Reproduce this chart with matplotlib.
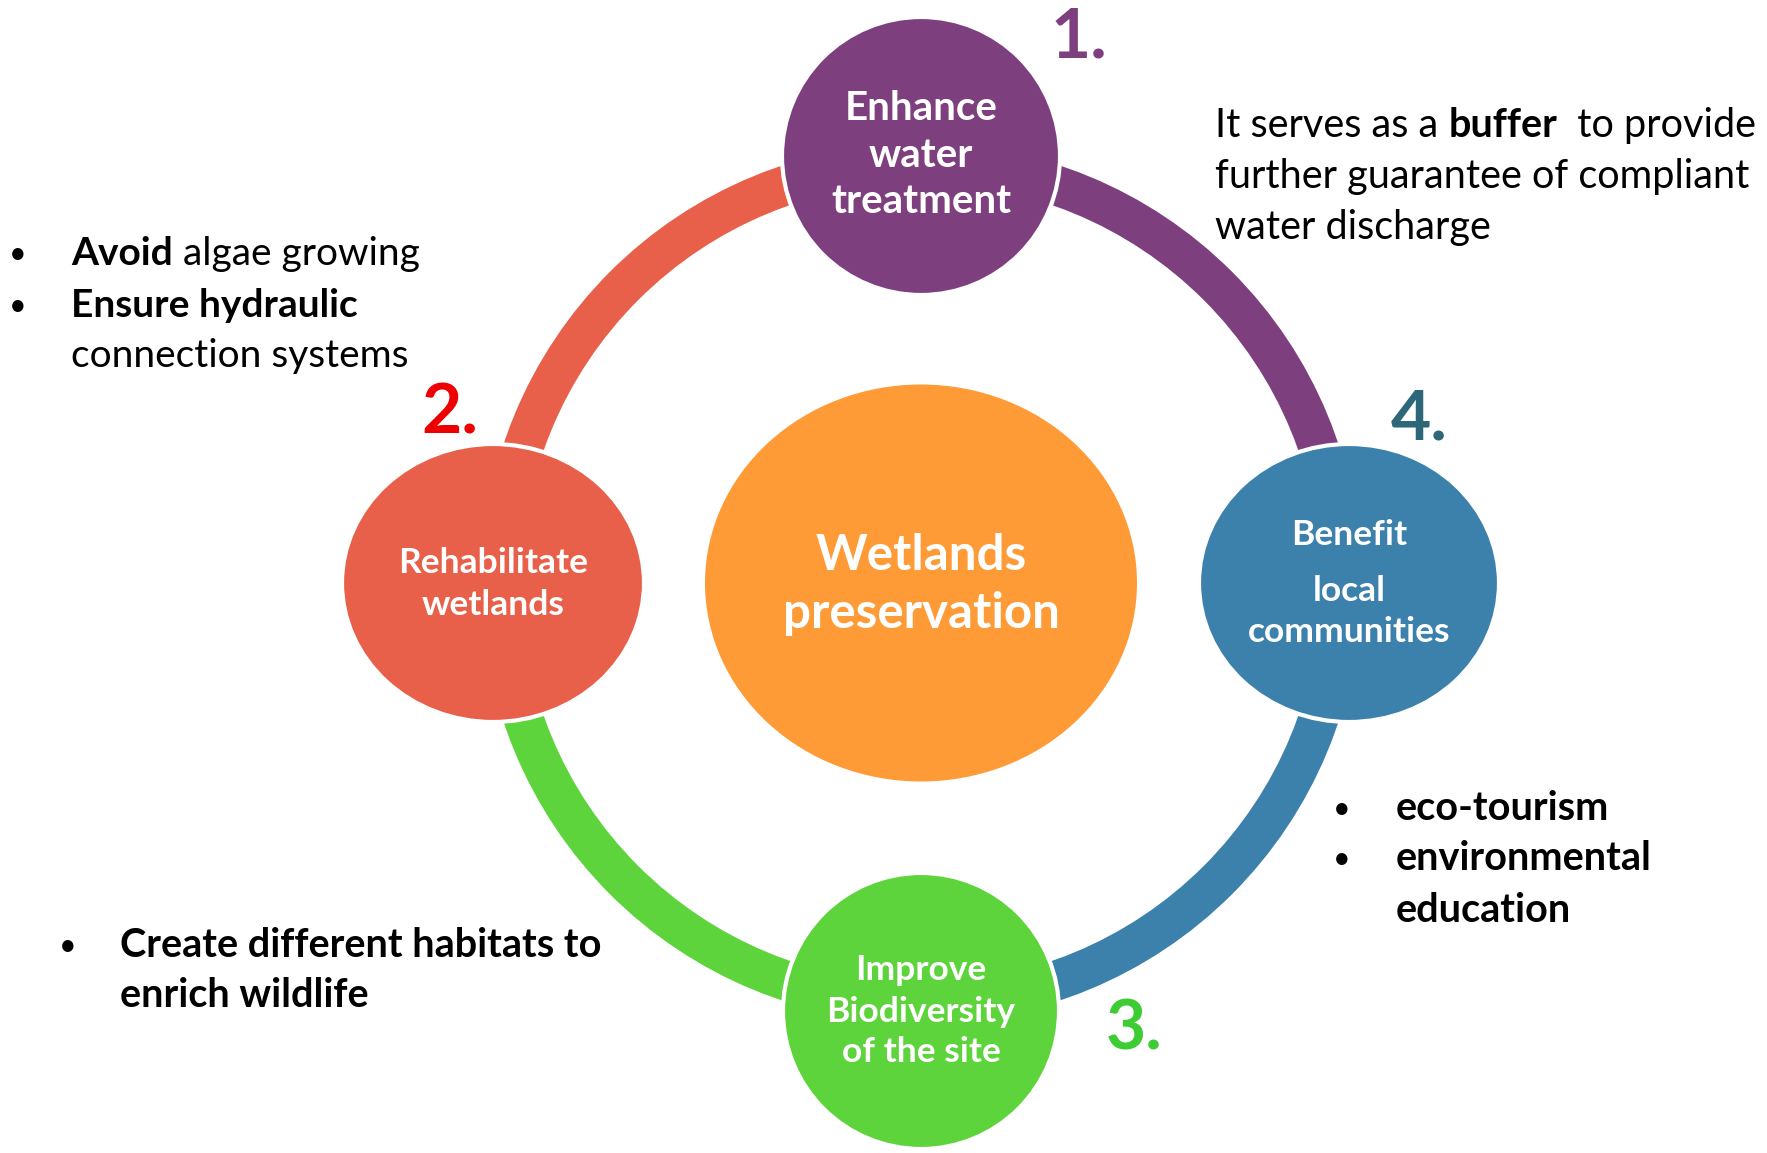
import matplotlib
matplotlib.use("Agg")
import matplotlib.pyplot as plt
from matplotlib.patches import Ellipse, Wedge

plt.rcParams['font.family'] = ['Lato', 'DejaVu Sans']

# ---- content ----
center_label = ["Wetlands", "preservation"]
node_labels = [["Enhance", "water", "treatment"],
               ["Rehabilitate", "wetlands"],
               ["Improve", "Biodiversity", "of the site"],
               ["Benefit", "local", "communities"]]
node_numbers = ["1.", "2.", "3.", "4."]
node_colors = ["#7E3F7E", "#E9604A", "#5DD33C", "#3C80AC"]
number_colors = ["#7E3F7E", "#EE0000", "#3DCC33", "#2E6878"]
center_color = "#FF9B37"

# side notes: each line is a list of (text, bold) runs
note_buffer = [[("It serves as a ", False), ("buffer", True), ("  to provide", False)],
               [("further guarantee of compliant", False)],
               [("water discharge", False)]]
note_algae = [[("Avoid", True), (" algae growing", False)],
              [("Ensure hydraulic", True)],
              [("connection systems", False)]]
note_habitat = [[("Create different habitats to", True)],
                [("enrich wildlife", True)]]
note_tourism = [[("eco-tourism", True)],
                [("environmental", True)],
                [("education", True)]]

# ---- layout (pixel coords, y down) ----
W, H = 1767, 1153
ring_center = (921, 583)
ring_radius = 440
ring_width = 40
# arcs drawn from each node towards the next one (angles in flipped-y data space)
arc_spans = [(270, 360), (180, 270), (90, 180), (0, 90)]

node_xy = [(921, 156), (493, 583), (921, 1011), (1349, 583)]
node_rx = [139, 151, 138, 150]
node_ry = [139, 139, 138, 139]
node_baselines = [[120, 167, 213], [573, 615], [980, 1022, 1062], [545, 601, 642]]
node_fs = [29, 25.5, 25.5, 25.5]
number_xy = [(1050, 58), (421, 434), (1106, 1049), (1391, 440)]

fig = plt.figure(figsize=(W / 100, H / 100), dpi=100)
ax = fig.add_axes([0, 0, 1, 1])
ax.set_xlim(0, W)
ax.set_ylim(H, 0)
ax.axis("off")

for (t1, t2), col in zip(arc_spans, node_colors):
    ax.add_patch(Wedge(ring_center, ring_radius, t1, t2, width=ring_width,
                       facecolor=col, edgecolor="none", zorder=1))

ax.add_patch(Ellipse(ring_center, 432, 397, facecolor=center_color, edgecolor="none", zorder=2))
ax.text(921, 570, center_label[0], ha="center", va="baseline", fontsize=35.5,
        fontweight="bold", color="white", zorder=5)
ax.text(921, 628, center_label[1], ha="center", va="baseline", fontsize=35.5,
        fontweight="bold", color="white", zorder=5)

for i in range(4):
    ax.add_patch(Ellipse(node_xy[i], 2 * node_rx[i], 2 * node_ry[i], facecolor=node_colors[i],
                         edgecolor="white", linewidth=3, zorder=3))
    for line, yb in zip(node_labels[i], node_baselines[i]):
        ax.text(node_xy[i][0], yb, line, ha="center", va="baseline", fontsize=node_fs[i],
                fontweight="bold", color="white", zorder=5)
    ax.text(number_xy[i][0], number_xy[i][1], node_numbers[i], ha="left", va="baseline",
            fontsize=50, fontweight="bold", color=number_colors[i], zorder=5)

fig.canvas.draw()
renderer = fig.canvas.get_renderer()


def draw_runs(x, y, runs, size):
    for txt, bold in runs:
        t = ax.text(x, y, txt, ha="left", va="baseline", fontsize=size,
                    fontweight="bold" if bold else "normal", color="black", zorder=5)
        bb = t.get_window_extent(renderer)
        x += bb.width


def draw_note(x, baselines, lines, size, bullets=(), bullet_x=None):
    for k, (runs, yb) in enumerate(zip(lines, baselines)):
        draw_runs(x, yb, runs, size)
        if k in bullets:
            ax.text(bullet_x, yb - 11, "\u2022", ha="center", va="center", fontsize=22,
                    color="black", zorder=5)


draw_note(1215, [137, 188, 239], note_buffer, 28.5)
draw_note(71, [265, 317, 367], note_algae, 28)
draw_note(120, [957, 1007], note_habitat, 28.5, bullets=(0,), bullet_x=68)
draw_note(1396, [820, 870, 922], note_tourism, 28.5, bullets=(0, 1), bullet_x=1342)

# bullets for the algae note
for yb in [265, 317]:
    ax.text(18, yb - 11, "\u2022", ha="center", va="center", fontsize=22, color="black", zorder=5)

fig.savefig("out.png", dpi=100, facecolor="white")
